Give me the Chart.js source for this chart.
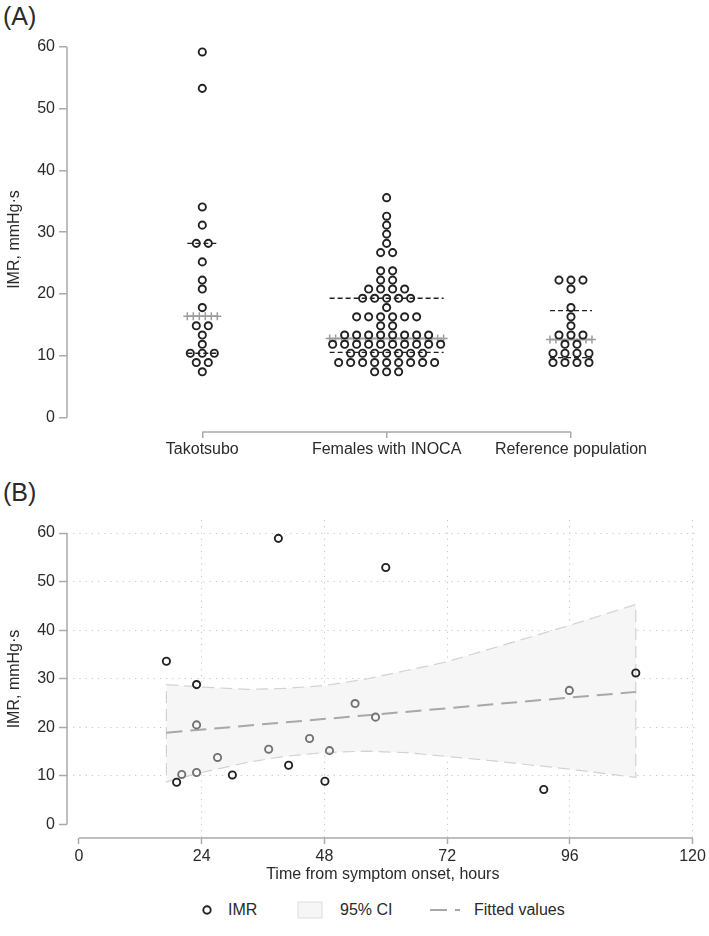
<!DOCTYPE html>
<html>
<head>
<meta charset="utf-8">
<script src="https://cdn.jsdelivr.net/npm/chart.js@4.4.1/dist/chart.umd.min.js"></script>
<style>
  body { margin: 0; background: #fff; width: 709px; height: 936px; position: relative; overflow: hidden;
         font-family: "Liberation Sans", Arial, sans-serif; color: #2a2a2a; }
  canvas { position: absolute; left: 0; }
  #chartA { top: 0; }
  #chartB { top: 470px; }
  .panel-label { position: absolute; left: 3px; font-size: 25px; line-height: 28px; }
  .lg { position: absolute; font-size: 16px; line-height: 18px; top: 901px; }
  .lg-mark { position: absolute; }
</style>
</head>
<body>
<div class="panel-label" style="top:2px">(A)</div>
<div class="panel-label" style="top:478px">(B)</div>
<canvas id="chartA" width="709" height="470"></canvas>
<canvas id="chartB" width="709" height="420"></canvas>

<svg class="lg-mark" style="left:201px;top:904px" width="12" height="12"><circle cx="6" cy="6" r="3.7" fill="none" stroke="#222" stroke-width="1.9"/></svg>
<div class="lg" style="left:228px">IMR</div>
<svg class="lg-mark" style="left:297px;top:901px" width="27" height="19"><rect x="1" y="1" width="24" height="16" fill="#f6f6f6" stroke="#dedede" stroke-width="1"/></svg>
<div class="lg" style="left:340px">95% CI</div>
<svg class="lg-mark" style="left:430px;top:905px" width="30" height="10"><line x1="0" y1="5" x2="30" y2="5" stroke="#a8a8a8" stroke-width="2" stroke-dasharray="17 8"/></svg>
<div class="lg" style="left:474px">Fitted values</div>

<script>
// ---- Panel A: dot plot of IMR by group (rows = binned IMR values, counts = dots per row)
const groups = ['Takotsubo', 'Females with INOCA', 'Reference population'];
const takoRows = [59.2, 53.3, 34.1, 31.15, 28.2, 25.2, 22.25, 20.8, 17.8, 14.85, 13.35, 11.85, 10.4, 8.9, 7.4];
const takoCounts = [1, 1, 1, 1, 2, 1, 1, 1, 1, 2, 1, 1, 3, 2, 1];
const inocaRows = [35.6, 32.6, 31.15, 29.7, 28.2, 26.7, 23.75, 22.25, 20.8, 19.3, 17.8, 16.3, 14.85, 13.35, 11.85, 10.4, 8.9, 7.4];
const inocaCounts = [1, 1, 1, 1, 1, 2, 2, 2, 4, 5, 1, 6, 2, 8, 10, 7, 9, 3];
const refRows = [22.25, 20.8, 17.8, 16.3, 14.85, 13.35, 11.85, 10.4, 8.9];
const refCounts = [3, 1, 1, 1, 1, 3, 2, 4, 4];
const upperQuartile = [28.2, 19.3, 17.3];
const medianIMR = [16.4, 12.8, 12.65];
const lowerQuartile = [10.4, 10.55, 9.7];
const yTicksA = [0, 10, 20, 30, 40, 50, 60];

// ---- Panel B: IMR vs time from symptom onset
const hoursDark = [17.1, 39.0, 60.0, 23.0, 19.1, 30.0, 41.0, 48.1, 90.9, 108.9];
const imrDark = [33.6, 58.9, 52.9, 28.8, 8.7, 10.2, 12.2, 8.9, 7.2, 31.2];
const hoursInBand = [23.0, 27.1, 20.1, 23.0, 37.1, 45.1, 49.0, 54.0, 58.0, 95.9];
const imrInBand = [20.5, 13.8, 10.3, 10.7, 15.5, 17.7, 15.2, 24.9, 22.1, 27.6];
const fitHours = [17.1, 108.9];
const fitIMR = [18.9, 27.3];
const ciHours = [17.1, 24, 33, 40, 48, 56, 64, 72, 80, 88, 96, 108.9];
const ciUpper = [28.8, 28.3, 27.8, 28.0, 28.6, 29.9, 31.7, 33.5, 36.0, 38.5, 41.0, 45.3];
const ciLower = [8.8, 10.7, 12.8, 14.0, 14.8, 15.1, 14.8, 14.0, 13.2, 12.3, 11.4, 9.7];
const xTicksB = [0, 24, 48, 72, 96, 120];
const yTicksB = [0, 10, 20, 30, 40, 50, 60];

Chart.defaults.font.family = '"Liberation Sans", Arial, sans-serif';
Chart.defaults.font.size = 16;
Chart.defaults.color = '#2a2a2a';

const axisColor = '#ababab';
const dotColor = '#222';

// axis lines that stop at the first/last tick, like the original
const axisLines = {
  id: 'axisLines',
  afterDatasetsDraw(chart, args, o) {
    const { ctx, chartArea, scales: { x, y } } = chart;
    ctx.save();
    ctx.strokeStyle = axisColor;
    ctx.lineWidth = 1.5;
    ctx.beginPath();
    ctx.moveTo(chartArea.left, y.getPixelForValue(o.yFrom));
    ctx.lineTo(chartArea.left, y.getPixelForValue(o.yTo));
    ctx.moveTo(x.getPixelForValue(o.xFrom), chartArea.bottom);
    ctx.lineTo(x.getPixelForValue(o.xTo), chartArea.bottom);
    ctx.stroke();
    ctx.restore();
  }
};

// dots are 12px apart: 184.35px per category in panel A
const dotGap = 12 / 184.35;
const barExtra = 3 / 184.35;

function dotPoints(center, rows, counts) {
  const pts = [];
  rows.forEach((v, i) => {
    const n = counts[i];
    for (let k = 0; k < n; k++) pts.push({ x: center + (k - (n - 1) / 2) * dotGap, y: v });
  });
  return pts;
}

const rowSets = [[takoRows, takoCounts], [inocaRows, inocaCounts], [refRows, refCounts]];
const datasetsA = [];
rowSets.forEach(([rows, counts], g) => {
  datasetsA.push({
    data: dotPoints(g + 1, rows, counts),
    pointRadius: 3.6, pointHoverRadius: 3.6, pointBorderWidth: 1.9,
    borderColor: dotColor, backgroundColor: 'rgba(0,0,0,0)'
  });
});
rowSets.forEach(([rows, counts], g) => {
  const half = (Math.max(...counts) - 1) / 2 * dotGap + barExtra;
  const c = g + 1;
  [upperQuartile[g], lowerQuartile[g]].forEach(q => {
    datasetsA.push({
      type: 'line', showLine: true, data: [{ x: c - half, y: q }, { x: c + half, y: q }],
      borderColor: dotColor, borderWidth: 1.4, borderDash: [5, 3], pointRadius: 0
    });
  });
  const steps = Math.max(2, Math.round(2 * half / (dotGap / 2)));
  const med = [];
  for (let k = 0; k <= steps; k++) med.push({ x: c - half + k * 2 * half / steps, y: medianIMR[g] });
  datasetsA.push({
    type: 'line', showLine: true, data: med,
    borderColor: '#9c9c9c', borderWidth: 1.5, pointStyle: 'cross', pointRadius: 4,
    pointBorderColor: '#9c9c9c', pointBorderWidth: 1.5, pointBackgroundColor: '#9c9c9c'
  });
});

new Chart(document.getElementById('chartA'), {
  type: 'scatter',
  data: { datasets: datasetsA },
  options: {
    responsive: false, animation: false, events: [],
    layout: { padding: { top: 47, right: 9, left: 0, bottom: 0 } },
    plugins: {
      legend: { display: false }, tooltip: { enabled: false },
      axisLines: { yFrom: 0, yTo: 60, xFrom: 1, xTo: 3 }
    },
    scales: {
      x: {
        type: 'linear', min: 0.266, max: 3.7,
        afterBuildTicks: s => { s.ticks = [1, 2, 3].map(v => ({ value: v })); },
        afterFit: s => { s.height = 38; },
        ticks: { callback: v => groups[v - 1], padding: 2, maxRotation: 0, autoSkip: false },
        grid: { drawOnChartArea: false, tickLength: 6, color: axisColor, tickColor: axisColor, lineWidth: 1.5 },
        border: { display: false }
      },
      y: {
        min: -2.35, max: 60,
        afterBuildTicks: s => { s.ticks = yTicksA.map(v => ({ value: v })); },
        afterFit: s => { s.width = 67; },
        ticks: { padding: 4 },
        grid: { drawOnChartArea: false, tickLength: 8, color: axisColor, tickColor: axisColor, lineWidth: 1.5 },
        border: { display: false },
        title: { display: true, text: 'IMR, mmHg·s', padding: { top: 5, bottom: 0 } }
      }
    }
  },
  plugins: [axisLines]
});

// ---- Panel B
const ciShape = ciHours.map((x, i) => ({ x, y: ciUpper[i] }))
  .concat(ciHours.map((x, i) => ({ x, y: ciLower[i] })).reverse())
  .concat([{ x: ciHours[0], y: ciUpper[0] }]);

const gridColor = c => (c.tick && c.tick.value === 0) ? 'rgba(0,0,0,0)' : '#c6c6c6';

new Chart(document.getElementById('chartB'), {
  type: 'scatter',
  data: {
    datasets: [
      { data: hoursDark.map((x, i) => ({ x, y: imrDark[i] })),
        pointRadius: 3.6, pointHoverRadius: 3.6, pointBorderWidth: 1.9,
        borderColor: dotColor, backgroundColor: 'rgba(0,0,0,0)' },
      { data: hoursInBand.map((x, i) => ({ x, y: imrInBand[i] })),
        pointRadius: 3.6, pointHoverRadius: 3.6, pointBorderWidth: 1.9,
        borderColor: '#727272', backgroundColor: 'rgba(0,0,0,0)' },
      { type: 'line', showLine: true, data: fitHours.map((x, i) => ({ x, y: fitIMR[i] })),
        borderColor: '#a8a8a8', borderWidth: 2, borderDash: [16, 8], pointRadius: 0 },
      { type: 'line', showLine: true, data: ciShape, fill: 'shape', tension: 0,
        backgroundColor: '#f6f6f6', borderColor: '#d2d2d2', borderWidth: 1.2, borderDash: [12, 6], pointRadius: 0 }
    ]
  },
  options: {
    responsive: false, animation: false, events: [],
    layout: { padding: { top: 50, right: 9, left: 0, bottom: 0 } },
    plugins: {
      legend: { display: false }, tooltip: { enabled: false },
      axisLines: { yFrom: 0, yTo: 60, xFrom: 0, xTo: 120 }
    },
    scales: {
      x: {
        type: 'linear', min: -2.34, max: 121.17,
        afterBuildTicks: s => { s.ticks = xTicksB.map(v => ({ value: v })); },
        afterFit: s => { s.height = 52; },
        ticks: { padding: 3, maxRotation: 0, autoSkip: false },
        grid: { color: gridColor, tickColor: axisColor, tickLength: 6, lineWidth: 1, tickWidth: 1.5 },
        border: { display: false, dash: [1.2, 5] },
        title: { display: true, text: 'Time from symptom onset, hours', padding: { top: 0, bottom: 6 } }
      },
      y: {
        min: -2.78, max: 62.68,
        afterBuildTicks: s => { s.ticks = yTicksB.map(v => ({ value: v })); },
        afterFit: s => { s.width = 67; },
        ticks: { padding: 4 },
        grid: { color: gridColor, tickColor: axisColor, tickLength: 8, lineWidth: 1, tickWidth: 1.5 },
        border: { display: false, dash: [1.2, 5] },
        title: { display: true, text: 'IMR, mmHg·s', padding: { top: 5, bottom: 0 } }
      }
    }
  },
  plugins: [axisLines]
});
</script>
</body>
</html>
